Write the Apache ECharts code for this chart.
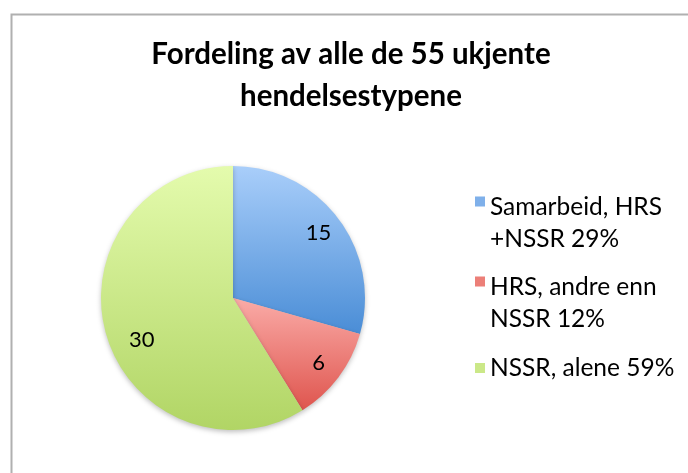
<!DOCTYPE html>
<html>
<head>
<meta charset="utf-8">
<script src="https://cdn.jsdelivr.net/npm/echarts@6/dist/echarts.min.js"></script>
<style>
  html, body { margin: 0; padding: 0; background: #fff; }
  #chart { width: 688px; height: 473px; }
</style>
</head>
<body>
<div id="chart"></div>
<script>
// data
const titleText = 'Fordeling av alle de 55 ukjente\nhendelsestypene';
const categories = ['Samarbeid, HRS +NSSR', 'HRS, andre enn NSSR', 'NSSR, alene'];
const legendLabels = ['Samarbeid, HRS\n+NSSR 29%', 'HRS, andre enn\nNSSR 12%', 'NSSR, alene 59%'];
const values = [15, 6, 30];
const gradTop = ['#a9cefa', '#faaba7', '#e4fbad'];
const gradBottom = ['#4a8dd6', '#df554e', '#b1d565'];
const iconColors = ['#7fb0ea', '#ec7f78', '#cbe888'];

const FONT = 'Lato, "Open Sans", sans-serif';
const CENTER = [233, 298];
const R = 132;

const grad = (i) => new echarts.graphic.LinearGradient(0, 0, 0, 1, [
  { offset: 0, color: gradTop[i] }, { offset: 1, color: gradBottom[i] }
]);
const labelOf = {};
categories.forEach((c, i) => { labelOf[c] = legendLabels[i]; });

const pieData = categories.map((name, i) => ({ name, value: values[i], itemStyle: { color: grad(i) } }));
// icon path: square near the top of a tall invisible box so it sits by the first text line
const twoLineIcon = 'path://M0,11L10,11L10,21L0,21ZM0,64L0.01,64';

const legendBase = {
  orient: 'vertical', left: 470, itemWidth: 10, itemGap: 16,
  textStyle: { fontFamily: FONT, fontSize: 24.5, color: '#000', lineHeight: 32 },
  formatter: (n) => labelOf[n], selectedMode: false,
};

const chart = echarts.init(document.getElementById('chart'));
chart.setOption({
  animation: false,
  backgroundColor: '#fff',
  title: {
    text: titleText, left: 346, top: 28, textAlign: 'center',
    textStyle: { fontFamily: FONT, fontSize: 29.5, fontWeight: 'bold', color: '#000', lineHeight: 42 },
  },
  graphic: [{ type: 'rect', left: 9, top: 12, shape: { width: 720, height: 520 }, style: { fill: 'none', stroke: '#b0b0b0', lineWidth: 2 }, silent: true }],
  legend: [
    Object.assign({}, legendBase, {
      top: 186, itemHeight: 64,
      data: categories.slice(0, 2).map((n, i) => ({ name: n, icon: twoLineIcon, itemStyle: { color: iconColors[i] } })),
    }),
    Object.assign({}, legendBase, {
      top: 347, itemHeight: 10,
      data: [{ name: categories[2], icon: 'rect', itemStyle: { color: iconColors[2] } }],
    }),
  ],
  series: [
    {
      type: 'pie', center: CENTER, radius: R, startAngle: 90, clockwise: true,
      label: { show: false }, labelLine: { show: false }, silent: true,
      itemStyle: { borderWidth: 0, shadowBlur: 5, shadowOffsetY: 2, shadowColor: 'rgba(0,0,0,0.25)' },
      data: pieData,
    },
    {
      // transparent ring used only to place the value labels at ~0.8 r
      type: 'pie', center: CENTER, radius: [R * 0.58, R], startAngle: 90, clockwise: true,
      silent: true, legendHoverLink: false,
      itemStyle: { color: 'rgba(0,0,0,0)', borderWidth: 0 },
      label: { show: true, position: 'inside', formatter: '{c}', fontFamily: FONT, fontSize: 22, color: '#000' },
      labelLine: { show: false },
      // Excel nudges the big slice's label toward the lower right
      data: categories.map((name, i) => ({
        name: name + ' ', value: values[i],
        label: i === 2 ? { offset: [12, 13] } : undefined,
      })),
    },
  ],
});
</script>
</body>
</html>
